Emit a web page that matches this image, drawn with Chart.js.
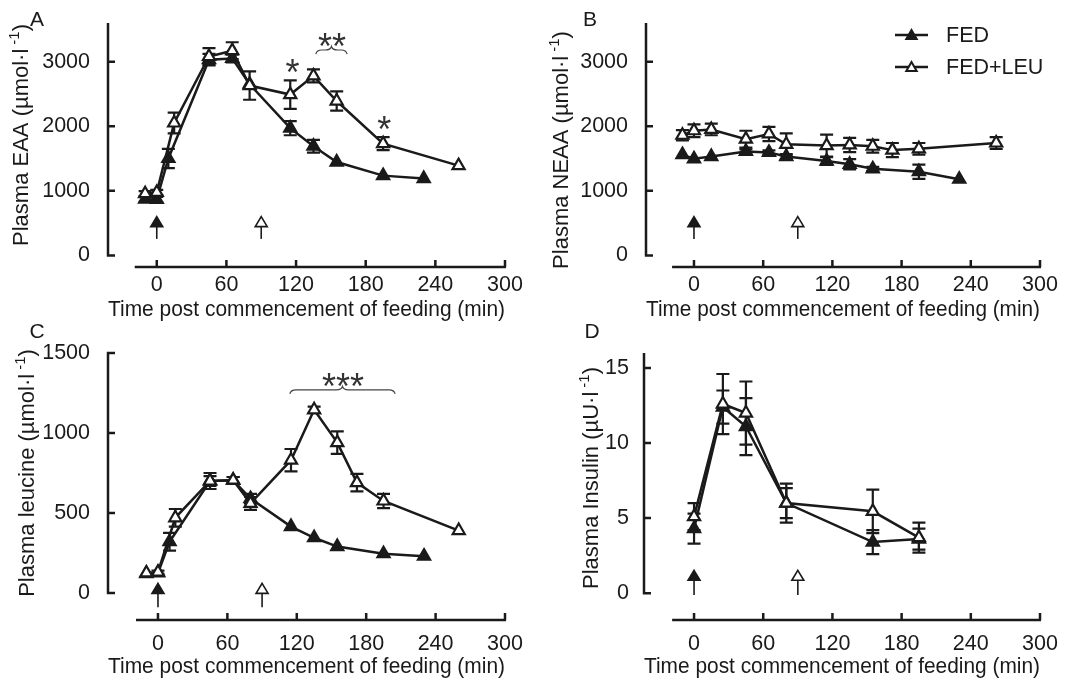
<!DOCTYPE html>
<html lang="en">
<head>
<meta charset="UTF-8">
<title>Plasma EAA, NEAA, leucine and insulin after feeding</title>
<script src="https://cdn.jsdelivr.net/npm/chart.js@4"></script>
<style>
  body { margin: 0; background: #fff; font-family: "Liberation Sans", Arial, sans-serif; }
  #page { position: relative; width: 1072px; height: 680px; overflow: hidden; }
  canvas { position: absolute; }
  .tag { position: absolute; font-size: 21px; color: #1a1a1a; transform: translate(-50%, -50%); line-height: 1; }
</style>
</head>
<body>
<div id="page">
  <canvas id="cA" width="530" height="330" style="left:0;top:0"></canvas>
  <canvas id="cB" width="534" height="330" style="left:538px;top:0"></canvas>
  <canvas id="cC" width="530" height="350" style="left:0;top:330px"></canvas>
  <canvas id="cD" width="534" height="350" style="left:538px;top:330px"></canvas>
  <div class="tag" style="left:37px;top:18px">A</div>
  <div class="tag" style="left:590px;top:18px">B</div>
  <div class="tag" style="left:37px;top:330px">C</div>
  <div class="tag" style="left:592px;top:330px">D</div>
</div>
<script>
// x axis (min post feeding)
const xTicks = [0, 60, 120, 180, 240, 300];
const arrowTimes = [0, 90];          // feed given / leucine given
const arrowFilled = [true, false];

// A - plasma EAA (µmol/l)
const eaaTimeFed = [-10, 0, 10, 45, 65, 80, 115, 135, 155, 195, 230];
const eaaFed     = [870, 865, 1500, 3030, 3050, 2650, 1970, 1690, 1445, 1235, 1190];
const eaaFedSem  = [40, 40, 150, 90, 60, 0, 110, 100, 0, 0, 0];
const eaaTimeLeu = [-10, 0, 15, 45, 65, 80, 115, 135, 155, 195, 260];
const eaaLeu     = [955, 975, 2050, 3080, 3170, 2630, 2490, 2780, 2390, 1730, 1390];
const eaaLeuSem  = [40, 40, 160, 130, 130, 220, 220, 100, 150, 100, 0];
const eaaTicks   = [0, 1000, 2000, 3000];

// B - plasma NEAA (µmol/l)
const neaaTimeFed = [-10, 0, 15, 45, 65, 80, 115, 135, 155, 195, 230];
const neaaFed     = [1560, 1495, 1530, 1610, 1595, 1530, 1460, 1410, 1340, 1295, 1180];
const neaaFedSem  = [0, 0, 0, 30, 30, 40, 60, 80, 30, 110, 0];
const neaaTimeLeu = [-10, 0, 15, 45, 65, 80, 115, 135, 155, 172, 195, 262];
const neaaLeu     = [1860, 1930, 1950, 1800, 1880, 1720, 1700, 1710, 1690, 1630, 1650, 1740];
const neaaLeuSem  = [80, 100, 90, 130, 110, 170, 170, 110, 100, 110, 90, 90];

// C - plasma leucine (µmol/l)
const leuTimeFed = [-10, 0, 10, 45, 65, 80, 115, 135, 155, 195, 230];
const leuFed     = [120, 125, 320, 700, 705, 590, 415, 345, 290, 245, 230];
const leuFedSem  = [0, 0, 55, 30, 20, 30, 0, 0, 0, 0, 0];
const leuTimeLeu = [-10, 0, 15, 45, 65, 80, 115, 135, 155, 172, 195, 260];
const leuLeu     = [125, 130, 470, 700, 705, 560, 830, 1145, 940, 690, 575, 390];
const leuLeuSem  = [0, 10, 55, 50, 20, 40, 70, 20, 70, 55, 45, 0];
const leuTicks   = [0, 500, 1000, 1500];

// D - plasma insulin (µU/l)
const insTime   = [0, 25, 45, 80, 155, 195];
const insFed    = [4.3, 12.4, 11.1, 6.0, 3.4, 3.6];
const insFedSem = [1.0, 1.1, 1.9, 1.0, 0.8, 0.7];
const insLeu    = [5.1, 12.6, 12.0, 6.0, 5.45, 3.7];
const insLeuSem = [0.9, 2.0, 2.1, 1.3, 1.45, 1.0];
const insTicks  = [0, 5, 10, 15];

const INK = '#1a1a1a';
const FONT = '"Liberation Sans", Arial, sans-serif';
const FS = 21.5;

function series(label, times, values, filled) {
  return {
    label: label,
    data: times.map((t, i) => ({ x: t, y: values[i] })),
    borderColor: INK,
    borderWidth: 2.5,
    pointStyle: 'triangle',
    pointRadius: 7,
    pointBorderWidth: 2.2,
    pointBackgroundColor: filled ? INK : '#fff',
    pointBorderColor: INK,
    tension: 0,
    fill: false
  };
}

function tri(ctx, x, y, r, filled) {
  ctx.beginPath();
  ctx.moveTo(x, y - r);
  ctx.lineTo(x + r * 0.866, y + r * 0.5);
  ctx.lineTo(x - r * 0.866, y + r * 0.5);
  ctx.closePath();
  ctx.fillStyle = filled ? INK : '#fff';
  ctx.fill();
  ctx.stroke();
}

// prism-like detached axes, error bars, arrows, stars
const prism = {
  id: 'prism',
  beforeDatasetsDraw(chart, args, o) {
    const ctx = chart.ctx, xs = chart.scales.x, ys = chart.scales.y;
    ctx.save();
    ctx.strokeStyle = INK;
    ctx.lineWidth = 2.2;
    chart.data.datasets.forEach((ds, k) => {
      const sem = o.sem[k];
      ds.data.forEach((p, i) => {
        if (!sem[i]) return;
        const px = xs.getPixelForValue(p.x);
        const y1 = ys.getPixelForValue(p.y + sem[i]);
        const y2 = ys.getPixelForValue(p.y - sem[i]);
        ctx.beginPath();
        ctx.moveTo(px, y1); ctx.lineTo(px, y2);
        ctx.moveTo(px - 6.5, y1); ctx.lineTo(px + 6.5, y1);
        ctx.moveTo(px - 6.5, y2); ctx.lineTo(px + 6.5, y2);
        ctx.stroke();
      });
    });
    ctx.restore();
  },
  afterDraw(chart, args, o) {
    const ctx = chart.ctx, xs = chart.scales.x, ys = chart.scales.y, ca = chart.chartArea;
    ctx.save();
    ctx.strokeStyle = INK;
    ctx.lineWidth = 2.5;
    ctx.lineCap = 'butt';

    // y axis with inward ticks
    const y0 = ys.getPixelForValue(0);
    ctx.beginPath();
    ctx.moveTo(ca.left, ca.top);
    ctx.lineTo(ca.left, y0);
    o.yTicks.forEach(v => {
      const py = ys.getPixelForValue(v);
      ctx.moveTo(ca.left - 1.2, py);
      ctx.lineTo(ca.left + 7, py);
    });
    ctx.stroke();

    // x axis, detached below
    ctx.beginPath();
    ctx.moveTo(xs.getPixelForValue(o.xStart), ca.bottom);
    ctx.lineTo(xs.getPixelForValue(300) + 1, ca.bottom);
    xTicks.forEach(v => {
      const px = xs.getPixelForValue(v);
      ctx.moveTo(px, ca.bottom);
      ctx.lineTo(px, ca.bottom - 7);
    });
    ctx.stroke();

    // arrows marking feed (filled) and leucine (open)
    ctx.lineWidth = 1.6;
    arrowTimes.forEach((t, i) => {
      const px = xs.getPixelForValue(t);
      const tip = ys.getPixelForValue(o.arrow[0]);
      const base = ys.getPixelForValue(o.arrow[1]);
      ctx.beginPath();
      ctx.moveTo(px, base);
      ctx.lineTo(px, tip + 10);
      ctx.stroke();
      ctx.beginPath();
      ctx.moveTo(px, tip);
      ctx.lineTo(px + 6, tip + 10);
      ctx.lineTo(px - 6, tip + 10);
      ctx.closePath();
      ctx.fillStyle = arrowFilled[i] ? INK : '#fff';
      ctx.fill();
      ctx.stroke();
    });

    // significance stars and braces
    ctx.fillStyle = '#333';
    ctx.strokeStyle = '#444';
    ctx.lineWidth = 1.2;
    ctx.font = '36px ' + FONT;
    ctx.textAlign = 'center';
    ctx.textBaseline = 'alphabetic';
    (o.stars || []).forEach(s => {
      ctx.fillText(s.text, xs.getPixelForValue(s.x), ys.getPixelForValue(s.y) + 0.58 * 36);
    });
    (o.braces || []).forEach(b => {
      const x0 = xs.getPixelForValue(b.x0), x1 = xs.getPixelForValue(b.x1);
      const xm = (x0 + x1) / 2, y = ys.getPixelForValue(b.y), r = 6;
      ctx.beginPath();
      ctx.moveTo(x0, y + 4);
      ctx.quadraticCurveTo(x0 + 1, y, x0 + r, y);
      ctx.lineTo(xm - r, y);
      ctx.quadraticCurveTo(xm - 1, y, xm, y - 3.5);
      ctx.quadraticCurveTo(xm + 1, y, xm + r, y);
      ctx.lineTo(x1 - r, y);
      ctx.quadraticCurveTo(x1 - 1, y, x1, y + 4);
      ctx.stroke();
    });

    // rotated y title with superscript
    const t = o.yTitle;
    ctx.translate(t.cx, t.cy);
    ctx.rotate(-Math.PI / 2);
    ctx.fillStyle = INK;
    ctx.textAlign = 'left';
    ctx.textBaseline = 'middle';
    const mainF = '22px ' + FONT, supF = '15px ' + FONT;
    ctx.font = mainF; const w1 = ctx.measureText(t.parts[0]).width, w3 = ctx.measureText(t.parts[2]).width;
    ctx.font = supF; const w2 = ctx.measureText(t.parts[1]).width + 4;
    let x = -(w1 + w2 + w3) / 2;
    ctx.font = mainF; ctx.fillText(t.parts[0], x, 0); x += w1 + 4;
    ctx.font = supF; ctx.fillText(t.parts[1], x, -7); x += w2 - 4;
    ctx.font = mainF; ctx.fillText(t.parts[2], x, 0);
    ctx.restore();

    // legend
    if (o.legend) {
      const L = o.legend;
      ctx.save();
      ctx.strokeStyle = INK;
      ctx.font = FS + 'px ' + FONT;
      ctx.textBaseline = 'middle';
      ctx.fillStyle = INK;
      L.items.forEach(it => {
        const ds = chart.data.datasets[it.ds];
        ctx.lineWidth = 2.5;
        ctx.beginPath();
        ctx.moveTo(L.x0, it.y); ctx.lineTo(L.x1, it.y);
        ctx.stroke();
        ctx.lineWidth = 2;
        tri(ctx, (L.x0 + L.x1) / 2, it.y + 1, 6, ds.pointBackgroundColor !== '#fff');
        ctx.fillStyle = INK;
        ctx.fillText(ds.label, L.tx, it.y + 1);
      });
      ctx.restore();
    }
  }
};

function makePanel(id, c) {
  return new Chart(document.getElementById(id), {
    type: 'line',
    data: {
      datasets: [
        series('FED+LEU', c.tLeu, c.leu, false),
        series('FED', c.tFed, c.fed, true)
      ]
    },
    options: {
      responsive: false,
      animation: false,
      layout: { padding: { left: 0, top: c.top, right: c.right, bottom: 0 } },
      scales: {
        x: {
          type: 'linear', min: c.xMin, max: 300,
          afterBuildTicks: s => { s.ticks = xTicks.map(v => ({ value: v })); },
          afterFit: s => { s.height = c.xH; },
          grid: { display: false }, border: { display: false },
          ticks: { padding: c.xPad, color: INK, font: { family: FONT, size: FS }, maxRotation: 0, autoSkip: false, callback: v => v },
          title: { display: true, text: 'Time post commencement of feeding (min)', color: INK,
                   font: { family: FONT, size: FS }, padding: { top: 0, bottom: c.xTitlePad } }
        },
        y: {
          type: 'linear', min: c.yMin, max: c.yMax,
          afterBuildTicks: s => { s.ticks = c.yTicks.map(v => ({ value: v })); },
          afterFit: s => { s.width = c.yW; },
          grid: { display: false }, border: { display: false },
          ticks: { padding: c.yPad, color: INK, font: { family: FONT, size: FS }, autoSkip: false, callback: v => v }
        }
      },
      plugins: {
        legend: { display: false },
        tooltip: { enabled: false },
        prism: {
          sem: [c.leuSem, c.fedSem],
          yTicks: c.yTicks, xStart: c.xStart, arrow: c.arrow,
          stars: c.stars, braces: c.braces, yTitle: c.yTitle, legend: c.legend
        }
      }
    },
    plugins: [prism]
  });
}

makePanel('cA', {
  tFed: eaaTimeFed, fed: eaaFed, fedSem: eaaFedSem,
  tLeu: eaaTimeLeu, leu: eaaLeu, leuSem: eaaLeuSem,
  yTicks: eaaTicks, yMin: -180, yMax: 3600, xMin: -42, xStart: -19,
  top: 14, right: 25, xH: 63, yW: 108, xPad: -3, yPad: 10, xTitlePad: 7,
  arrow: [600, 255],
  stars: [{ x: 117, y: 2960, text: '*' }, { x: 151, y: 3360, text: '**' }, { x: 196, y: 2080, text: '*' }],
  braces: [{ x0: 137, x1: 164, y: 3180 }],
  yTitle: { parts: ['Plasma EAA (µmol·l', '-1', ')'], cx: 22, cy: 135 }
});

makePanel('cB', {
  tFed: neaaTimeFed, fed: neaaFed, fedSem: neaaFedSem,
  tLeu: neaaTimeLeu, leu: neaaLeu, leuSem: neaaLeuSem,
  yTicks: eaaTicks, yMin: -180, yMax: 3600, xMin: -41.6, xStart: -19,
  top: 14, right: 32, xH: 63, yW: 108, xPad: -3, yPad: 10, xTitlePad: 7,
  arrow: [600, 255],
  yTitle: { parts: ['Plasma NEAA (µmol·l', '-1', ')'], cx: 24, cy: 150 },
  legend: { x0: 357, x1: 390, tx: 408, items: [{ ds: 1, y: 35 }, { ds: 0, y: 67 }] }
});

makePanel('cC', {
  tFed: leuTimeFed, fed: leuFed, fedSem: leuFedSem,
  tLeu: leuTimeLeu, leu: leuLeu, leuSem: leuLeuSem,
  yTicks: leuTicks, yMin: -169, yMax: 1500, xMin: -43.2, xStart: -19,
  top: 23, right: 25, xH: 60, yW: 108, xPad: 3, yPad: 10, xTitlePad: 0,
  arrow: [60, -90],
  stars: [{ x: 160, y: 1344, text: '***' }],
  braces: [{ x0: 114, x1: 205, y: 1269 }],
  yTitle: { parts: ['Plasma leucine (µmol·l', '-1', ')'], cx: 28, cy: 143 }
});

makePanel('cD', {
  tFed: insTime, fed: insFed, fedSem: insFedSem,
  tLeu: insTime, leu: insLeu, leuSem: insLeuSem,
  yTicks: insTicks, yMin: -1.79, yMax: 16, xMin: -43.4, xStart: -19,
  top: 23, right: 32, xH: 60, yW: 106, xPad: 3, yPad: 7, xTitlePad: 0,
  arrow: [1.52, -0.13],
  yTitle: { parts: ['Plasma Insulin (µU·l', '-1', ')'], cx: 54, cy: 148 }
});
</script>
</body>
</html>
